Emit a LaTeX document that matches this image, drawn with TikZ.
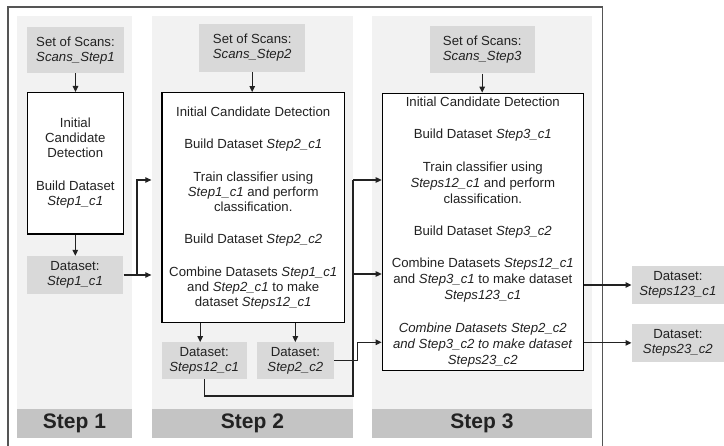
\documentclass[tikz,border=0pt]{standalone}
\usepackage{fontspec}
\setmainfont{Liberation Sans}
\usetikzlibrary{arrows.meta}
\definecolor{colbg}{HTML}{F2F2F2}
\definecolor{barbg}{HTML}{C4C4C4}
\definecolor{boxbg}{HTML}{D9D9D9}
\definecolor{txt}{HTML}{222222}
\definecolor{framec}{HTML}{555555}
\definecolor{linec}{HTML}{222222}
\begin{document}
\begin{tikzpicture}[x=1pt,y=-1pt,
  databox/.style={fill=boxbg, inner sep=0pt, align=center, text=txt, font=\fontsize{13.2}{15}\selectfont},
  mainbox/.style={draw=black, line width=1.3pt, fill=white, inner sep=0pt, align=center, text=txt},
  arr/.style={draw=linec, line width=1.1pt, -{Triangle[length=6pt,width=5.5pt]}},
  conn/.style={draw=linec, line width=1.1pt},
  bar/.style={fill=barbg, inner sep=0pt, font=\fontsize{21}{25}\selectfont\bfseries, text=txt}
]
\useasboundingbox (0,0) rectangle (724,446);
\fill[white] (0,0) rectangle (724,446);
% columns
\fill[colbg] (17,16) rectangle (132,409.5);
\fill[colbg] (152,16) rectangle (353,409.5);
\fill[colbg] (372,16) rectangle (592,409.5);
\node[bar, minimum width=115pt, minimum height=28.5pt] (b1) at (74.5,423.75) {Step 1};
\node[bar, minimum width=201pt, minimum height=28.5pt] (b2) at (252.5,423.75) {Step 2};
\node[bar, minimum width=220pt, minimum height=28.5pt] (b3) at (482,423.75) {Step 3};
% frame
\draw[framec, line width=1.4pt] (8,446) -- (8,7) -- (602.5,7) -- (602.5,446);

% step 1
\node[databox, minimum width=96.4pt, minimum height=46pt] (s1) at (75.5,50.3) {Set of Scans:\\\textit{Scans\_Step1}};
\node[mainbox, minimum width=96pt, minimum height=141.3pt, font=\fontsize{13.2}{15}\selectfont] (m1) at (75.3,163.3)
  {Initial\\Candidate\\Detection\\[18pt]Build Dataset\\\textit{Step1\_c1}};
\node[databox, minimum width=96.6pt, minimum height=38pt] (d1) at (75,275) {Dataset:\\\textit{Step1\_c1}};

% step 2
\node[databox, minimum width=105.7pt, minimum height=47.4pt] (s2) at (252.2,48) {Set of Scans:\\\textit{Scans\_Step2}};
\node[mainbox, minimum width=182.5pt, minimum height=230pt, font=\fontsize{13.2}{15}\selectfont] (m2) at (253.25,207.7)
  {Initial Candidate Detection\\[17.5pt]Build Dataset \textit{Step2\_c1}\\[17.5pt]Train classifier using\\\textit{Step1\_c1} and perform\\classification.\\[17.5pt]Build Dataset \textit{Step2\_c2}\\[17.5pt]Combine Datasets \textit{Step1\_c1}\\and \textit{Step2\_c1} to make\\dataset \textit{Steps12\_c1}};
\node[databox, minimum width=85pt, minimum height=37pt] (d2a) at (204.2,360.8) {Dataset:\\\textit{Steps12\_c1}};
\node[databox, minimum width=77.3pt, minimum height=37pt] (d2b) at (295.35,360.8) {Dataset:\\\textit{Step2\_c2}};

% step 3
\node[databox, minimum width=105pt, minimum height=47.3pt] (s3) at (482.2,49.7) {Set of Scans:\\\textit{Scans\_Step3}};
\node[mainbox, minimum width=201pt, minimum height=277.4pt, font=\fontsize{13.2}{16}\selectfont] (m3) at (482.8,232)
  {Initial Candidate Detection\\[16.3pt]Build Dataset \textit{Step3\_c1}\\[16.3pt]Train classifier using\\\textit{Steps12\_c1} and perform\\classification.\\[16.3pt]Build Dataset \textit{Step3\_c2}\\[16.3pt]Combine Datasets \textit{Steps12\_c1}\\and \textit{Step3\_c1} to make dataset\\\textit{Steps123\_c1}\\[16.3pt]\textit{Combine Datasets Step2\_c2}\\\textit{and Step3\_c2 to make dataset}\\\textit{Steps23\_c2}};
\node[databox, minimum width=92.3pt, minimum height=38pt] (o1) at (677.85,285) {Dataset:\\\textit{Steps123\_c1}};
\node[databox, minimum width=92.3pt, minimum height=37.7pt] (o2) at (677.85,342.85) {Dataset:\\\textit{Steps23\_c2}};

% vertical arrows
\draw[arr] (s1.south) -- (s1.south |- m1.north);
\draw[arr] (m1.south) -- (m1.south |- d1.north);
\draw[arr] (s2.south) -- (s2.south |- m2.north);
\draw[arr] ([xshift=-4pt]d2a.north |- m2.south) -- ([xshift=-4pt]d2a.north);
\draw[arr] (d2b.north |- m2.south) -- (d2b.north);
\draw[arr] (s3.south) -- (s3.south |- m3.north);

% step 1 -> step 2
\coordinate (j1) at (137,275);
\coordinate (r1) at (137,180);
\draw[arr, shorten >=10pt] (d1.east) -- (d1.east -| m2.west);
\draw[arr, shorten >=10pt] (j1) -- (r1) -- (r1 -| m2.west);

% step 2 -> step 3
\coordinate (j2) at (353,396);
\coordinate (r2) at (353,180);
\coordinate (q2) at (353,274);
\coordinate (k2) at (357.3,342.3);
\draw[conn] (d2a.south) |- (j2) -- (r2);
\draw[arr] (r2) -- (r2 -| m3.west);
\draw[arr] (q2) -- (q2 -| m3.west);
\draw[arr] (d2b.east) -| (k2) -- (k2 -| m3.west);

% step 3 outputs
\draw[arr] (m3.east |- o1.west) -- (o1.west);
\draw[arr] (m3.east |- o2.west) -- (o2.west);
\end{tikzpicture}
\end{document}
